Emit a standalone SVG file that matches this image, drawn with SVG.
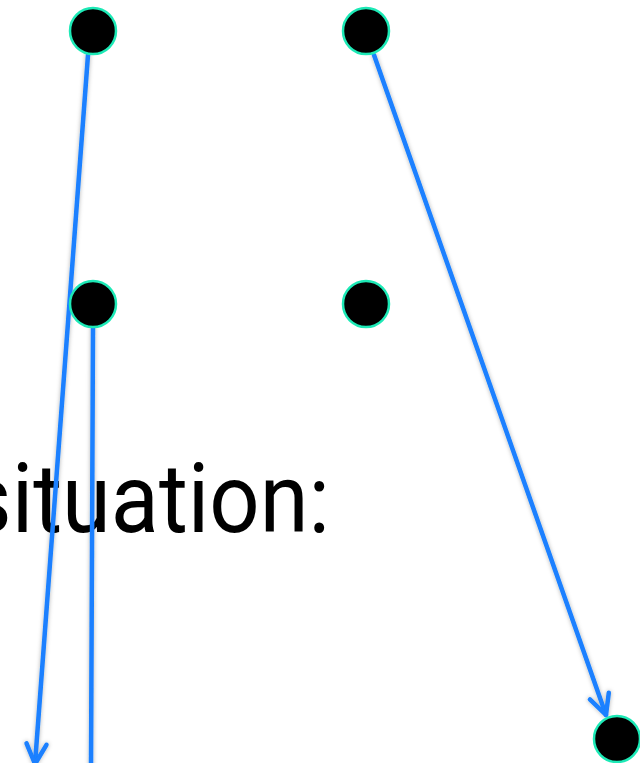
<svg xmlns="http://www.w3.org/2000/svg" width="640" height="763" viewBox="0 0 640 763">
<style>
.node{fill:#000;stroke:#1de9b6;stroke-width:2.5}
.edge{fill:none;stroke:#1a80ff;stroke-width:4.5;stroke-linecap:round}
.lbl{font-family:Roboto,"Liberation Sans",sans-serif;font-size:97px;fill:#000}
</style>
<defs>
<filter id="sh" x="-50%" y="-10%" width="200%" height="120%">
<feDropShadow dx="0" dy="0" stdDeviation="2" flood-color="#000" flood-opacity="0.3"/>
</filter>
<marker id="ah" markerUnits="userSpaceOnUse" viewBox="-26 -16 30 32" refX="0" refY="0" markerWidth="30" markerHeight="32" orient="auto">
<path d="M-20 -10 L0 0 L-20 10" fill="none" stroke="#1a80ff" stroke-width="4.5" stroke-linecap="round" stroke-linejoin="round"/>
</marker>
</defs>
<text class="lbl" x="-34" y="532" textLength="364" lengthAdjust="spacingAndGlyphs">situation:</text>
<g id="connectors" filter="url(#sh)">
<path class="edge" d="M88 55 L35 764" marker-end="url(#ah)"/>
<path class="edge" d="M93 325 L91 770"/>
<path class="edge" d="M374 55 L606 715" marker-end="url(#ah)"/>
</g>
<g id="n1"><circle class="node" cx="93" cy="31" r="23"/></g>
<g id="n2"><circle class="node" cx="366" cy="31" r="23"/></g>
<g id="n3"><circle class="node" cx="93" cy="304" r="23"/></g>
<g id="n4"><circle class="node" cx="366" cy="304" r="23"/></g>
<g id="n5"><circle class="node" cx="617" cy="739" r="23"/></g>
</svg>
